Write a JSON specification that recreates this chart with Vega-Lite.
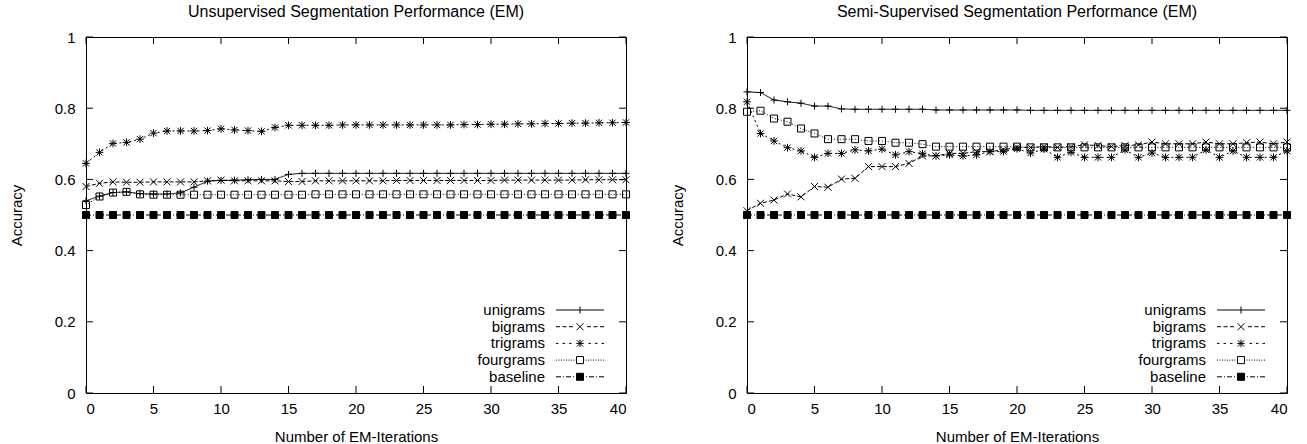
{
  "$schema": "https://vega.github.io/schema/vega-lite/v6.json",
  "padding": {"left": 8, "top": 3, "right": 0, "bottom": 0},
  "autosize": {"type": "pad"},
  "bounds": "flush",
  "spacing": 121,
  "config": {
    "view": {"stroke": "black", "strokeWidth": 1},
    "font": "Liberation Sans",
    "axis": {"labelFont": "Liberation Sans", "labelFontSize": 15, "titleFont": "Liberation Sans", "titleFontSize": 15, "titleFontWeight": "normal", "labelColor": "black", "titleColor": "black", "tickColor": "black", "domainColor": "black", "grid": false},
    "title": {"font": "Liberation Sans", "fontSize": 16, "fontWeight": "normal", "color": "black", "offset": 10, "anchor": "middle"},
    "legend": {"orient": "none", "legendX": 486, "legendY": 265, "title": null, "labelAlign": "right", "labelOffset": -43, "symbolSize": 225, "symbolStrokeColor": "black", "symbolStrokeWidth": 1, "symbolOpacity": 1, "rowPadding": 0.7, "labelFontSize": 15, "labelFont": "Liberation Sans", "labelColor": "black", "padding": 0}
  },
  "datasets": {
    "xt": [{"t": 0}, {"t": 5}, {"t": 10}, {"t": 15}, {"t": 20}, {"t": 25}, {"t": 30}, {"t": 35}, {"t": 40}],
    "yt": [{"t": 0}, {"t": 0.2}, {"t": 0.4}, {"t": 0.6}, {"t": 0.8}, {"t": 1}],
    "unsup": [
      {"iter": 0, "unigrams": 0.540, "bigrams": 0.580, "trigrams": 0.645, "fourgrams": 0.528, "baseline": 0.5},
      {"iter": 1, "unigrams": 0.553, "bigrams": 0.589, "trigrams": 0.676, "fourgrams": 0.552, "baseline": 0.5},
      {"iter": 2, "unigrams": 0.563, "bigrams": 0.593, "trigrams": 0.701, "fourgrams": 0.563, "baseline": 0.5},
      {"iter": 3, "unigrams": 0.565, "bigrams": 0.592, "trigrams": 0.704, "fourgrams": 0.565, "baseline": 0.5},
      {"iter": 4, "unigrams": 0.560, "bigrams": 0.592, "trigrams": 0.713, "fourgrams": 0.558, "baseline": 0.5},
      {"iter": 5, "unigrams": 0.559, "bigrams": 0.593, "trigrams": 0.730, "fourgrams": 0.557, "baseline": 0.5},
      {"iter": 6, "unigrams": 0.559, "bigrams": 0.593, "trigrams": 0.736, "fourgrams": 0.557, "baseline": 0.5},
      {"iter": 7, "unigrams": 0.562, "bigrams": 0.593, "trigrams": 0.736, "fourgrams": 0.557, "baseline": 0.5},
      {"iter": 8, "unigrams": 0.578, "bigrams": 0.593, "trigrams": 0.736, "fourgrams": 0.557, "baseline": 0.5},
      {"iter": 9, "unigrams": 0.595, "bigrams": 0.596, "trigrams": 0.737, "fourgrams": 0.557, "baseline": 0.5},
      {"iter": 10, "unigrams": 0.597, "bigrams": 0.598, "trigrams": 0.742, "fourgrams": 0.557, "baseline": 0.5},
      {"iter": 11, "unigrams": 0.598, "bigrams": 0.596, "trigrams": 0.739, "fourgrams": 0.557, "baseline": 0.5},
      {"iter": 12, "unigrams": 0.599, "bigrams": 0.596, "trigrams": 0.737, "fourgrams": 0.557, "baseline": 0.5},
      {"iter": 13, "unigrams": 0.600, "bigrams": 0.596, "trigrams": 0.735, "fourgrams": 0.557, "baseline": 0.5},
      {"iter": 14, "unigrams": 0.600, "bigrams": 0.596, "trigrams": 0.746, "fourgrams": 0.557, "baseline": 0.5},
      {"iter": 15, "unigrams": 0.614, "bigrams": 0.594, "trigrams": 0.752, "fourgrams": 0.557, "baseline": 0.5},
      {"iter": 16, "unigrams": 0.617, "bigrams": 0.594, "trigrams": 0.752, "fourgrams": 0.557, "baseline": 0.5},
      {"iter": 17, "unigrams": 0.617, "bigrams": 0.596, "trigrams": 0.752, "fourgrams": 0.558, "baseline": 0.5},
      {"iter": 18, "unigrams": 0.617, "bigrams": 0.596, "trigrams": 0.752, "fourgrams": 0.558, "baseline": 0.5},
      {"iter": 19, "unigrams": 0.617, "bigrams": 0.596, "trigrams": 0.753, "fourgrams": 0.558, "baseline": 0.5},
      {"iter": 20, "unigrams": 0.617, "bigrams": 0.596, "trigrams": 0.753, "fourgrams": 0.558, "baseline": 0.5},
      {"iter": 21, "unigrams": 0.617, "bigrams": 0.596, "trigrams": 0.753, "fourgrams": 0.558, "baseline": 0.5},
      {"iter": 22, "unigrams": 0.617, "bigrams": 0.596, "trigrams": 0.753, "fourgrams": 0.558, "baseline": 0.5},
      {"iter": 23, "unigrams": 0.617, "bigrams": 0.597, "trigrams": 0.753, "fourgrams": 0.558, "baseline": 0.5},
      {"iter": 24, "unigrams": 0.617, "bigrams": 0.597, "trigrams": 0.753, "fourgrams": 0.558, "baseline": 0.5},
      {"iter": 25, "unigrams": 0.617, "bigrams": 0.597, "trigrams": 0.753, "fourgrams": 0.558, "baseline": 0.5},
      {"iter": 26, "unigrams": 0.617, "bigrams": 0.597, "trigrams": 0.753, "fourgrams": 0.558, "baseline": 0.5},
      {"iter": 27, "unigrams": 0.617, "bigrams": 0.597, "trigrams": 0.753, "fourgrams": 0.558, "baseline": 0.5},
      {"iter": 28, "unigrams": 0.617, "bigrams": 0.597, "trigrams": 0.754, "fourgrams": 0.558, "baseline": 0.5},
      {"iter": 29, "unigrams": 0.617, "bigrams": 0.597, "trigrams": 0.754, "fourgrams": 0.558, "baseline": 0.5},
      {"iter": 30, "unigrams": 0.617, "bigrams": 0.597, "trigrams": 0.755, "fourgrams": 0.558, "baseline": 0.5},
      {"iter": 31, "unigrams": 0.617, "bigrams": 0.598, "trigrams": 0.755, "fourgrams": 0.558, "baseline": 0.5},
      {"iter": 32, "unigrams": 0.617, "bigrams": 0.598, "trigrams": 0.756, "fourgrams": 0.558, "baseline": 0.5},
      {"iter": 33, "unigrams": 0.617, "bigrams": 0.598, "trigrams": 0.756, "fourgrams": 0.558, "baseline": 0.5},
      {"iter": 34, "unigrams": 0.617, "bigrams": 0.598, "trigrams": 0.757, "fourgrams": 0.558, "baseline": 0.5},
      {"iter": 35, "unigrams": 0.617, "bigrams": 0.598, "trigrams": 0.757, "fourgrams": 0.558, "baseline": 0.5},
      {"iter": 36, "unigrams": 0.617, "bigrams": 0.598, "trigrams": 0.758, "fourgrams": 0.558, "baseline": 0.5},
      {"iter": 37, "unigrams": 0.617, "bigrams": 0.599, "trigrams": 0.758, "fourgrams": 0.558, "baseline": 0.5},
      {"iter": 38, "unigrams": 0.617, "bigrams": 0.599, "trigrams": 0.759, "fourgrams": 0.558, "baseline": 0.5},
      {"iter": 39, "unigrams": 0.617, "bigrams": 0.599, "trigrams": 0.759, "fourgrams": 0.558, "baseline": 0.5},
      {"iter": 40, "unigrams": 0.617, "bigrams": 0.599, "trigrams": 0.760, "fourgrams": 0.558, "baseline": 0.5}
    ],
    "semi": [
      {"iter": 0, "unigrams": 0.846, "bigrams": 0.512, "trigrams": 0.818, "fourgrams": 0.790, "baseline": 0.5},
      {"iter": 1, "unigrams": 0.844, "bigrams": 0.533, "trigrams": 0.729, "fourgrams": 0.793, "baseline": 0.5},
      {"iter": 2, "unigrams": 0.823, "bigrams": 0.542, "trigrams": 0.708, "fourgrams": 0.771, "baseline": 0.5},
      {"iter": 3, "unigrams": 0.818, "bigrams": 0.559, "trigrams": 0.689, "fourgrams": 0.762, "baseline": 0.5},
      {"iter": 4, "unigrams": 0.814, "bigrams": 0.551, "trigrams": 0.680, "fourgrams": 0.743, "baseline": 0.5},
      {"iter": 5, "unigrams": 0.806, "bigrams": 0.580, "trigrams": 0.662, "fourgrams": 0.729, "baseline": 0.5},
      {"iter": 6, "unigrams": 0.806, "bigrams": 0.578, "trigrams": 0.673, "fourgrams": 0.713, "baseline": 0.5},
      {"iter": 7, "unigrams": 0.798, "bigrams": 0.601, "trigrams": 0.673, "fourgrams": 0.713, "baseline": 0.5},
      {"iter": 8, "unigrams": 0.797, "bigrams": 0.603, "trigrams": 0.683, "fourgrams": 0.713, "baseline": 0.5},
      {"iter": 9, "unigrams": 0.797, "bigrams": 0.636, "trigrams": 0.680, "fourgrams": 0.708, "baseline": 0.5},
      {"iter": 10, "unigrams": 0.797, "bigrams": 0.636, "trigrams": 0.685, "fourgrams": 0.708, "baseline": 0.5},
      {"iter": 11, "unigrams": 0.797, "bigrams": 0.636, "trigrams": 0.669, "fourgrams": 0.703, "baseline": 0.5},
      {"iter": 12, "unigrams": 0.797, "bigrams": 0.645, "trigrams": 0.678, "fourgrams": 0.703, "baseline": 0.5},
      {"iter": 13, "unigrams": 0.797, "bigrams": 0.666, "trigrams": 0.672, "fourgrams": 0.699, "baseline": 0.5},
      {"iter": 14, "unigrams": 0.795, "bigrams": 0.666, "trigrams": 0.666, "fourgrams": 0.692, "baseline": 0.5},
      {"iter": 15, "unigrams": 0.795, "bigrams": 0.673, "trigrams": 0.669, "fourgrams": 0.692, "baseline": 0.5},
      {"iter": 16, "unigrams": 0.795, "bigrams": 0.673, "trigrams": 0.666, "fourgrams": 0.692, "baseline": 0.5},
      {"iter": 17, "unigrams": 0.795, "bigrams": 0.678, "trigrams": 0.669, "fourgrams": 0.692, "baseline": 0.5},
      {"iter": 18, "unigrams": 0.795, "bigrams": 0.678, "trigrams": 0.678, "fourgrams": 0.692, "baseline": 0.5},
      {"iter": 19, "unigrams": 0.795, "bigrams": 0.683, "trigrams": 0.678, "fourgrams": 0.692, "baseline": 0.5},
      {"iter": 20, "unigrams": 0.795, "bigrams": 0.690, "trigrams": 0.686, "fourgrams": 0.692, "baseline": 0.5},
      {"iter": 21, "unigrams": 0.794, "bigrams": 0.690, "trigrams": 0.674, "fourgrams": 0.690, "baseline": 0.5},
      {"iter": 22, "unigrams": 0.794, "bigrams": 0.692, "trigrams": 0.685, "fourgrams": 0.690, "baseline": 0.5},
      {"iter": 23, "unigrams": 0.794, "bigrams": 0.690, "trigrams": 0.662, "fourgrams": 0.690, "baseline": 0.5},
      {"iter": 24, "unigrams": 0.794, "bigrams": 0.692, "trigrams": 0.676, "fourgrams": 0.690, "baseline": 0.5},
      {"iter": 25, "unigrams": 0.794, "bigrams": 0.697, "trigrams": 0.662, "fourgrams": 0.690, "baseline": 0.5},
      {"iter": 26, "unigrams": 0.794, "bigrams": 0.695, "trigrams": 0.662, "fourgrams": 0.690, "baseline": 0.5},
      {"iter": 27, "unigrams": 0.794, "bigrams": 0.692, "trigrams": 0.662, "fourgrams": 0.690, "baseline": 0.5},
      {"iter": 28, "unigrams": 0.794, "bigrams": 0.695, "trigrams": 0.683, "fourgrams": 0.690, "baseline": 0.5},
      {"iter": 29, "unigrams": 0.794, "bigrams": 0.697, "trigrams": 0.662, "fourgrams": 0.690, "baseline": 0.5},
      {"iter": 30, "unigrams": 0.794, "bigrams": 0.705, "trigrams": 0.674, "fourgrams": 0.690, "baseline": 0.5},
      {"iter": 31, "unigrams": 0.794, "bigrams": 0.700, "trigrams": 0.662, "fourgrams": 0.690, "baseline": 0.5},
      {"iter": 32, "unigrams": 0.794, "bigrams": 0.700, "trigrams": 0.662, "fourgrams": 0.690, "baseline": 0.5},
      {"iter": 33, "unigrams": 0.794, "bigrams": 0.700, "trigrams": 0.662, "fourgrams": 0.690, "baseline": 0.5},
      {"iter": 34, "unigrams": 0.794, "bigrams": 0.705, "trigrams": 0.683, "fourgrams": 0.690, "baseline": 0.5},
      {"iter": 35, "unigrams": 0.794, "bigrams": 0.700, "trigrams": 0.662, "fourgrams": 0.690, "baseline": 0.5},
      {"iter": 36, "unigrams": 0.794, "bigrams": 0.700, "trigrams": 0.680, "fourgrams": 0.690, "baseline": 0.5},
      {"iter": 37, "unigrams": 0.794, "bigrams": 0.703, "trigrams": 0.662, "fourgrams": 0.690, "baseline": 0.5},
      {"iter": 38, "unigrams": 0.794, "bigrams": 0.705, "trigrams": 0.662, "fourgrams": 0.690, "baseline": 0.5},
      {"iter": 39, "unigrams": 0.794, "bigrams": 0.700, "trigrams": 0.662, "fourgrams": 0.690, "baseline": 0.5},
      {"iter": 40, "unigrams": 0.794, "bigrams": 0.705, "trigrams": 0.680, "fourgrams": 0.690, "baseline": 0.5}
    ]
  },
  "hconcat": [
    {
      "width": 540, "height": 356,
      "title": {"text": "Unsupervised Segmentation Performance (EM)"},
      "layer": [
        {
          "data": {"name": "unsup"},
          "transform": [{"fold": ["unigrams", "bigrams", "trigrams", "fourgrams", "baseline"], "as": ["series", "acc"]}],
          "mark": {"type": "line", "color": "black", "strokeWidth": 1},
          "encoding": {
            "x": {"field": "iter", "type": "quantitative", "scale": {"domain": [0, 40], "nice": false}, "axis": {"title": "Number of EM-Iterations", "values": [0, 5, 10, 15, 20, 25, 30, 35, 40], "ticks": false, "domain": false, "labelPadding": 8.5, "titlePadding": 13}},
            "y": {"field": "acc", "type": "quantitative", "scale": {"domain": [0, 1], "nice": false}, "axis": {"title": "Accuracy", "values": [0, 0.2, 0.4, 0.6, 0.8, 1], "format": "~g", "ticks": false, "domain": false, "labelPadding": 11, "titlePadding": 30}},
            "strokeDash": {"field": "series", "type": "nominal", "scale": {"domain": ["unigrams", "bigrams", "trigrams", "fourgrams", "baseline"], "range": [[1, 0], [4, 2], [2, 3], [1, 2], [5, 2, 1, 2]]}, "legend": null}
          }
        },
        {
          "data": {"name": "unsup"},
          "transform": [{"fold": ["unigrams", "bigrams", "trigrams", "fourgrams", "baseline"], "as": ["series", "acc"]}],
          "mark": {"type": "point", "stroke": "black", "strokeWidth": 1, "size": 49, "opacity": 1},
          "encoding": {
            "x": {"field": "iter", "type": "quantitative", "scale": {"domain": [0, 40], "nice": false}, "axis": null},
            "y": {"field": "acc", "type": "quantitative", "scale": {"domain": [0, 1], "nice": false}, "axis": null},
            "shape": {"field": "series", "type": "nominal", "scale": {"domain": ["unigrams", "bigrams", "trigrams", "fourgrams", "baseline"], "range": ["M-1,0H1M0,-1V1", "M-1,-1L1,1M-1,1L1,-1", "M-1.1,0H1.1M0,-1.1V1.1M-0.9,-0.9L0.9,0.9M-0.9,0.9L0.9,-0.9", "M-1,-1H1V1H-1Z", "M-1,-1H1V1H-1Z"]}, "legend": null},
            "fill": {"field": "series", "type": "nominal", "scale": {"domain": ["unigrams", "bigrams", "trigrams", "fourgrams", "baseline"], "range": ["transparent", "transparent", "transparent", "transparent", "black"]}, "legend": null}
          }
        },
        {
          "data": {"name": "unsup"},
          "transform": [{"fold": ["unigrams", "bigrams", "trigrams", "fourgrams", "baseline"], "as": ["series", "acc"]}],
          "mark": {"type": "point", "size": 49, "opacity": 0, "stroke": "black", "strokeWidth": 1},
          "encoding": {
            "x": {"field": "iter", "type": "quantitative", "scale": {"domain": [0, 40], "nice": false}, "axis": null},
            "y": {"field": "acc", "type": "quantitative", "scale": {"domain": [0, 1], "nice": false}, "axis": null},
            "shape": {"field": "series", "type": "nominal", "scale": {"domain": ["unigrams", "bigrams", "trigrams", "fourgrams", "baseline"], "range": [
              "M-3.2,0H3.2M0,-0.47V0.47",
              "M-3.2,0H-2.667M-2.333,0H-1.8M-1.467,0H-0.933M0.933,0H1.467M1.8,0H2.333M2.667,0H3.2M-0.47,-0.47L0.47,0.47M-0.47,0.47L0.47,-0.47",
              "M-3.2,0H-2.867M-2.333,0H-2M-1.467,0H-1.133M1.133,0H1.467M2,0H2.333M2.867,0H3.2M-0.5,0H0.5M0,-0.5V0.5M-0.42,-0.42L0.42,0.42M-0.42,0.42L0.42,-0.42",
              "M-3.2,0h0.133M-2.867,0h0.133M-2.533,0h0.133M-2.2,0h0.133M-1.867,0h0.133M-1.533,0h0.133M-1.2,0h0.133M-0.867,0h0.133M0.733,0h0.133M1.067,0h0.133M1.4,0h0.133M1.733,0h0.133M2.067,0h0.133M2.4,0h0.133M2.733,0h0.133M3.067,0h0.133M-0.47,-0.47H0.47V0.47H-0.47Z",
              "M-3.2,0H-2.533M-2.267,0H-2.133M-1.867,0H-1.2M-0.933,0H-0.8M0.8,0H0.933M1.2,0H1.867M2.133,0H2.267M2.533,0H3.2M-0.47,-0.47H0.47V0.47H-0.47Z"
            ]}, "legend": {"encode": {"symbols": {"update": {"stroke": {"value": "black"}, "strokeWidth": {"value": 1}, "opacity": {"value": 1}, "strokeOpacity": {"value": 1}}}}}},
            "fill": {"field": "series", "type": "nominal", "scale": {"domain": ["unigrams", "bigrams", "trigrams", "fourgrams", "baseline"], "range": ["transparent", "transparent", "transparent", "transparent", "black"]}, "legend": {"encode": {"symbols": {"update": {"stroke": {"value": "black"}, "strokeWidth": {"value": 1}, "opacity": {"value": 1}, "strokeOpacity": {"value": 1}}}}}}
          }
        },
        {
          "data": {"name": "xt"},
          "mark": {"type": "rule", "color": "black", "strokeWidth": 1, "y2Offset": -7},
          "encoding": {
            "x": {"field": "t", "type": "quantitative", "scale": {"domain": [0, 40], "nice": false}, "axis": null},
            "y": {"datum": 0, "type": "quantitative", "scale": {"domain": [0, 1], "nice": false}, "axis": null},
            "y2": {"datum": 0}
          }
        },
        {
          "data": {"name": "xt"},
          "mark": {"type": "rule", "color": "black", "strokeWidth": 1, "y2Offset": 7},
          "encoding": {
            "x": {"field": "t", "type": "quantitative", "scale": {"domain": [0, 40], "nice": false}, "axis": null},
            "y": {"datum": 1, "type": "quantitative", "scale": {"domain": [0, 1], "nice": false}, "axis": null},
            "y2": {"datum": 1}
          }
        },
        {
          "data": {"name": "yt"},
          "mark": {"type": "rule", "color": "black", "strokeWidth": 1, "x2Offset": 7},
          "encoding": {
            "y": {"field": "t", "type": "quantitative", "scale": {"domain": [0, 1], "nice": false}, "axis": null},
            "x": {"datum": 0, "type": "quantitative", "scale": {"domain": [0, 40], "nice": false}, "axis": null},
            "x2": {"datum": 0}
          }
        },
        {
          "data": {"name": "yt"},
          "mark": {"type": "rule", "color": "black", "strokeWidth": 1, "x2Offset": -7},
          "encoding": {
            "y": {"field": "t", "type": "quantitative", "scale": {"domain": [0, 1], "nice": false}, "axis": null},
            "x": {"datum": 40, "type": "quantitative", "scale": {"domain": [0, 40], "nice": false}, "axis": null},
            "x2": {"datum": 40}
          }
        }
      ],
      "resolve": {"scale": {"shape": "independent", "fill": "independent"}, "axis": {"x": "independent", "y": "independent"}}
    },
    {
      "width": 540, "height": 356,
      "title": {"text": "Semi-Supervised Segmentation Performance (EM)"},
      "layer": [
        {
          "data": {"name": "semi"},
          "transform": [{"fold": ["unigrams", "bigrams", "trigrams", "fourgrams", "baseline"], "as": ["series", "acc"]}],
          "mark": {"type": "line", "color": "black", "strokeWidth": 1},
          "encoding": {
            "x": {"field": "iter", "type": "quantitative", "scale": {"domain": [0, 40], "nice": false}, "axis": {"title": "Number of EM-Iterations", "values": [0, 5, 10, 15, 20, 25, 30, 35, 40], "ticks": false, "domain": false, "labelPadding": 8.5, "titlePadding": 13}},
            "y": {"field": "acc", "type": "quantitative", "scale": {"domain": [0, 1], "nice": false}, "axis": {"title": "Accuracy", "values": [0, 0.2, 0.4, 0.6, 0.8, 1], "format": "~g", "ticks": false, "domain": false, "labelPadding": 11, "titlePadding": 30}},
            "strokeDash": {"field": "series", "type": "nominal", "scale": {"domain": ["unigrams", "bigrams", "trigrams", "fourgrams", "baseline"], "range": [[1, 0], [4, 2], [2, 3], [1, 2], [5, 2, 1, 2]]}, "legend": null}
          }
        },
        {
          "data": {"name": "semi"},
          "transform": [{"fold": ["unigrams", "bigrams", "trigrams", "fourgrams", "baseline"], "as": ["series", "acc"]}],
          "mark": {"type": "point", "stroke": "black", "strokeWidth": 1, "size": 49, "opacity": 1},
          "encoding": {
            "x": {"field": "iter", "type": "quantitative", "scale": {"domain": [0, 40], "nice": false}, "axis": null},
            "y": {"field": "acc", "type": "quantitative", "scale": {"domain": [0, 1], "nice": false}, "axis": null},
            "shape": {"field": "series", "type": "nominal", "scale": {"domain": ["unigrams", "bigrams", "trigrams", "fourgrams", "baseline"], "range": ["M-1,0H1M0,-1V1", "M-1,-1L1,1M-1,1L1,-1", "M-1.1,0H1.1M0,-1.1V1.1M-0.9,-0.9L0.9,0.9M-0.9,0.9L0.9,-0.9", "M-1,-1H1V1H-1Z", "M-1,-1H1V1H-1Z"]}, "legend": null},
            "fill": {"field": "series", "type": "nominal", "scale": {"domain": ["unigrams", "bigrams", "trigrams", "fourgrams", "baseline"], "range": ["transparent", "transparent", "transparent", "transparent", "black"]}, "legend": null}
          }
        },
        {
          "data": {"name": "semi"},
          "transform": [{"fold": ["unigrams", "bigrams", "trigrams", "fourgrams", "baseline"], "as": ["series", "acc"]}],
          "mark": {"type": "point", "size": 49, "opacity": 0, "stroke": "black", "strokeWidth": 1},
          "encoding": {
            "x": {"field": "iter", "type": "quantitative", "scale": {"domain": [0, 40], "nice": false}, "axis": null},
            "y": {"field": "acc", "type": "quantitative", "scale": {"domain": [0, 1], "nice": false}, "axis": null},
            "shape": {"field": "series", "type": "nominal", "scale": {"domain": ["unigrams", "bigrams", "trigrams", "fourgrams", "baseline"], "range": [
              "M-3.2,0H3.2M0,-0.47V0.47",
              "M-3.2,0H-2.667M-2.333,0H-1.8M-1.467,0H-0.933M0.933,0H1.467M1.8,0H2.333M2.667,0H3.2M-0.47,-0.47L0.47,0.47M-0.47,0.47L0.47,-0.47",
              "M-3.2,0H-2.867M-2.333,0H-2M-1.467,0H-1.133M1.133,0H1.467M2,0H2.333M2.867,0H3.2M-0.5,0H0.5M0,-0.5V0.5M-0.42,-0.42L0.42,0.42M-0.42,0.42L0.42,-0.42",
              "M-3.2,0h0.133M-2.867,0h0.133M-2.533,0h0.133M-2.2,0h0.133M-1.867,0h0.133M-1.533,0h0.133M-1.2,0h0.133M-0.867,0h0.133M0.733,0h0.133M1.067,0h0.133M1.4,0h0.133M1.733,0h0.133M2.067,0h0.133M2.4,0h0.133M2.733,0h0.133M3.067,0h0.133M-0.47,-0.47H0.47V0.47H-0.47Z",
              "M-3.2,0H-2.533M-2.267,0H-2.133M-1.867,0H-1.2M-0.933,0H-0.8M0.8,0H0.933M1.2,0H1.867M2.133,0H2.267M2.533,0H3.2M-0.47,-0.47H0.47V0.47H-0.47Z"
            ]}, "legend": {"encode": {"symbols": {"update": {"stroke": {"value": "black"}, "strokeWidth": {"value": 1}, "opacity": {"value": 1}, "strokeOpacity": {"value": 1}}}}}},
            "fill": {"field": "series", "type": "nominal", "scale": {"domain": ["unigrams", "bigrams", "trigrams", "fourgrams", "baseline"], "range": ["transparent", "transparent", "transparent", "transparent", "black"]}, "legend": {"encode": {"symbols": {"update": {"stroke": {"value": "black"}, "strokeWidth": {"value": 1}, "opacity": {"value": 1}, "strokeOpacity": {"value": 1}}}}}}
          }
        },
        {
          "data": {"name": "xt"},
          "mark": {"type": "rule", "color": "black", "strokeWidth": 1, "y2Offset": -7},
          "encoding": {
            "x": {"field": "t", "type": "quantitative", "scale": {"domain": [0, 40], "nice": false}, "axis": null},
            "y": {"datum": 0, "type": "quantitative", "scale": {"domain": [0, 1], "nice": false}, "axis": null},
            "y2": {"datum": 0}
          }
        },
        {
          "data": {"name": "xt"},
          "mark": {"type": "rule", "color": "black", "strokeWidth": 1, "y2Offset": 7},
          "encoding": {
            "x": {"field": "t", "type": "quantitative", "scale": {"domain": [0, 40], "nice": false}, "axis": null},
            "y": {"datum": 1, "type": "quantitative", "scale": {"domain": [0, 1], "nice": false}, "axis": null},
            "y2": {"datum": 1}
          }
        },
        {
          "data": {"name": "yt"},
          "mark": {"type": "rule", "color": "black", "strokeWidth": 1, "x2Offset": 7},
          "encoding": {
            "y": {"field": "t", "type": "quantitative", "scale": {"domain": [0, 1], "nice": false}, "axis": null},
            "x": {"datum": 0, "type": "quantitative", "scale": {"domain": [0, 40], "nice": false}, "axis": null},
            "x2": {"datum": 0}
          }
        },
        {
          "data": {"name": "yt"},
          "mark": {"type": "rule", "color": "black", "strokeWidth": 1, "x2Offset": -7},
          "encoding": {
            "y": {"field": "t", "type": "quantitative", "scale": {"domain": [0, 1], "nice": false}, "axis": null},
            "x": {"datum": 40, "type": "quantitative", "scale": {"domain": [0, 40], "nice": false}, "axis": null},
            "x2": {"datum": 40}
          }
        }
      ],
      "resolve": {"scale": {"shape": "independent", "fill": "independent"}, "axis": {"x": "independent", "y": "independent"}}
    }
  ]
}
